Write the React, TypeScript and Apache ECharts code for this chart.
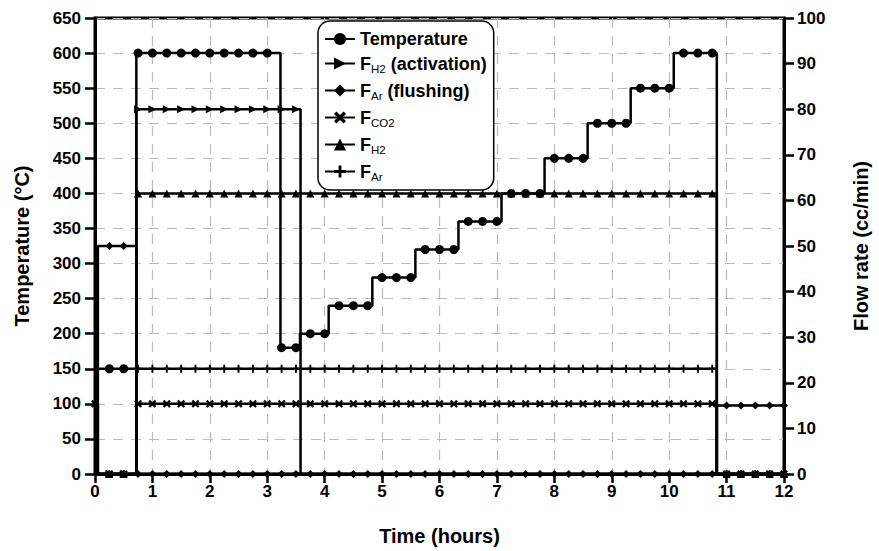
import React, { useEffect, useRef } from "react";
import * as echarts from "echarts";

// Quarter-hour sampling instants where markers are drawn (hours)
const quarterHours = [
  0, 0.25, 0.5, 0.75, 1, 1.25, 1.5, 1.75, 2, 2.25, 2.5, 2.75, 3, 3.25, 3.5, 3.75,
  4, 4.25, 4.5, 4.75, 5, 5.25, 5.5, 5.75, 6, 6.25, 6.5, 6.75, 7, 7.25, 7.5, 7.75,
  8, 8.25, 8.5, 8.75, 9, 9.25, 9.5, 9.75, 10, 10.25, 10.5, 10.75, 11, 11.25, 11.5, 11.75, 12,
];

// Step profiles: [start (h), end (h), value]
const temperatureSteps = [
  [0, 0.72, 150], [0.72, 3.23, 600], [3.23, 3.57, 180], [3.57, 4.07, 200],
  [4.07, 4.83, 240], [4.83, 5.58, 280], [5.58, 6.33, 320], [6.33, 7.08, 360],
  [7.08, 7.83, 400], [7.83, 8.58, 450], [8.58, 9.33, 500], [9.33, 10.08, 550],
  [10.08, 10.83, 600], [10.83, 12, 0],
];
const temperatureMarks = [0.25, 10.75];

const fH2ActivationSteps = [[0, 0.72, 0], [0.72, 3.58, 80], [3.58, 12, 0]];
const fH2ActivationMarks = [0.25, 3.5];

const fArFlushingSteps = [[0, 0.05, 0], [0.05, 0.72, 50], [0.72, 10.83, 0], [10.83, 12, 15]];
const fArFlushingMarks = [0.25, 12];

const fCO2Steps = [[0, 0.05, 15.4], [0.05, 0.72, 0], [0.72, 10.83, 15.4], [10.83, 12, 0]];
const fCO2Marks = [0, 12];

const fH2Steps = [[0, 0.72, 0], [0.72, 10.83, 61.5], [10.83, 12, 0]];
const fH2Marks = [0.25, 12];

const fArSteps = [[0, 0.72, 0], [0.72, 10.83, 23.1], [10.83, 12, 0]];
const fArMarks = [0.25, 12];

const legendNames = [
  "Temperature",
  "FH2 (activation)",
  "FAr (flushing)",
  "FCO2",
  "FH2",
  "FAr",
];

function buildData(steps: number[][], win: number[]) {
  const marks = quarterHours.filter((t) => t >= win[0] && t <= win[1]);
  const pts: any[] = [];
  steps.forEach(([a, b, v]) => {
    pts.push({ value: [a, v], symbol: "none" });
    marks
      .filter((t) => (t > a || (a === 0 && t === 0)) && t <= b)
      .forEach((t) => pts.push({ value: [t, v] }));
    pts.push({ value: [b, v], symbol: "none" });
  });
  return pts;
}

const FONT = "'Liberation Sans', Arial, Helvetica, sans-serif";
const CROSS =
  "path://M2,0 L5,3 L8,0 L10,2 L7,5 L10,8 L8,10 L5,7 L2,10 L0,8 L3,5 L0,2 Z";
const PLUS = "path://M3.8,0 H6.2 V3.8 H10 V6.2 H6.2 V10 H3.8 V6.2 H0 V3.8 H3.8 Z";

function mkSeries(
  name: string,
  steps: number[][],
  win: number[],
  yAxisIndex: number,
  symbol: string,
  symbolSize: number,
  symbolRotate = 0
) {
  return {
    name,
    type: "line",
    yAxisIndex,
    data: buildData(steps, win),
    symbol,
    symbolSize,
    symbolRotate,
    showSymbol: true,
    showAllSymbol: true,
    clip: false,
    lineStyle: { color: "#000", width: 2.5 },
    itemStyle: { color: "#000", borderWidth: 0 },
    emphasis: { disabled: true },
  };
}

const legendRich: Record<string, string> = {
  Temperature: "{a|Temperature}",
  "FH2 (activation)": "{a|F}{s|H2}{a| (activation)}",
  "FAr (flushing)": "{a|F}{s|Ar}{a| (flushing)}",
  FCO2: "{a|F}{s|CO2}",
  FH2: "{a|F}{s|H2}",
  FAr: "{a|F}{s|Ar}",
};

export default function App() {
  const ref = useRef<HTMLDivElement>(null);
  useEffect(() => {
    const chart = echarts.init(ref.current!, null, { renderer: "svg" });
    const axisLabel = { color: "#000", fontWeight: "bold", fontSize: 17, fontFamily: FONT };
    const nameStyle = { color: "#000", fontWeight: "bold", fontSize: 20, fontFamily: FONT };
    const dashed = { show: true, lineStyle: { color: "#bbb", width: 1.2, type: [10, 8] } };
    chart.setOption({
      animation: false,
      backgroundColor: "#fff",
      grid: {
        left: 95,
        right: 89,
        top: 18,
        bottom: 70,
        show: true,
        borderColor: "#000",
        borderWidth: 3,
        backgroundColor: "transparent",
      },
      legend: {
        data: legendNames,
        orient: "vertical",
        left: 318,
        top: 21,
        padding: [9, 7, 7, 6],
        itemGap: 4,
        itemWidth: 30,
        itemHeight: 15,
        borderColor: "#000",
        borderWidth: 1.5,
        borderRadius: 12,
        backgroundColor: "#fff",
        formatter: (n: string) => legendRich[n] || n,
        textStyle: {
          rich: {
            a: { fontSize: 18, fontWeight: "bold", color: "#000", fontFamily: FONT, lineHeight: 22 },
            s: { fontSize: 11.5, color: "#000", fontFamily: FONT, padding: [11, 0, 0, 0], lineHeight: 12 },
          },
        },
      },
      xAxis: {
        type: "value",
        min: 0,
        max: 12,
        interval: 1,
        name: "Time (hours)",
        nameLocation: "middle",
        nameGap: 52,
        nameTextStyle: nameStyle,
        axisLine: { show: true, lineStyle: { color: "#000", width: 3 } },
        axisTick: { show: true, inside: false, length: 9, lineStyle: { color: "#000", width: 2.5 } },
        axisLabel: { ...axisLabel, margin: 9 },
        splitLine: dashed,
      },
      yAxis: [
        {
          type: "value",
          min: 0,
          max: 650,
          interval: 50,
          name: "Temperature (°C)",
          nameLocation: "middle",
          nameRotate: 90,
          nameGap: 63,
          nameTextStyle: nameStyle,
          axisLine: { show: true, lineStyle: { color: "#000", width: 3 } },
          axisTick: { show: true, inside: false, length: 10, lineStyle: { color: "#000", width: 2.5 } },
          axisLabel: { ...axisLabel, margin: 14 },
          splitLine: dashed,
        },
        {
          type: "value",
          min: 0,
          max: 100,
          interval: 10,
          position: "right",
          name: "Flow rate (cc/min)",
          nameLocation: "middle",
          nameRotate: 90,
          nameGap: 67,
          nameTextStyle: nameStyle,
          axisLine: { show: true, lineStyle: { color: "#000", width: 3 } },
          axisTick: { show: true, inside: false, length: 10, lineStyle: { color: "#000", width: 2.5 } },
          axisLabel: { ...axisLabel, margin: 13 },
          splitLine: { show: false },
        },
      ],
      series: [
        mkSeries("FAr (flushing)", fArFlushingSteps, fArFlushingMarks, 1, "diamond", 8),
        mkSeries("FCO2", fCO2Steps, fCO2Marks, 1, CROSS, 8),
        mkSeries("FAr", fArSteps, fArMarks, 1, PLUS, 8),
        mkSeries("FH2", fH2Steps, fH2Marks, 1, "triangle", 8),
        mkSeries("FH2 (activation)", fH2ActivationSteps, fH2ActivationMarks, 1, "triangle", 8, -90),
        mkSeries("Temperature", temperatureSteps, temperatureMarks, 0, "circle", 9),
      ],
    });
    return () => chart.dispose();
  }, []);
  return (
    <div
      ref={ref}
      style={{ position: "fixed", left: 0, top: 0, width: 879, height: 551 }}
    />
  );
}
